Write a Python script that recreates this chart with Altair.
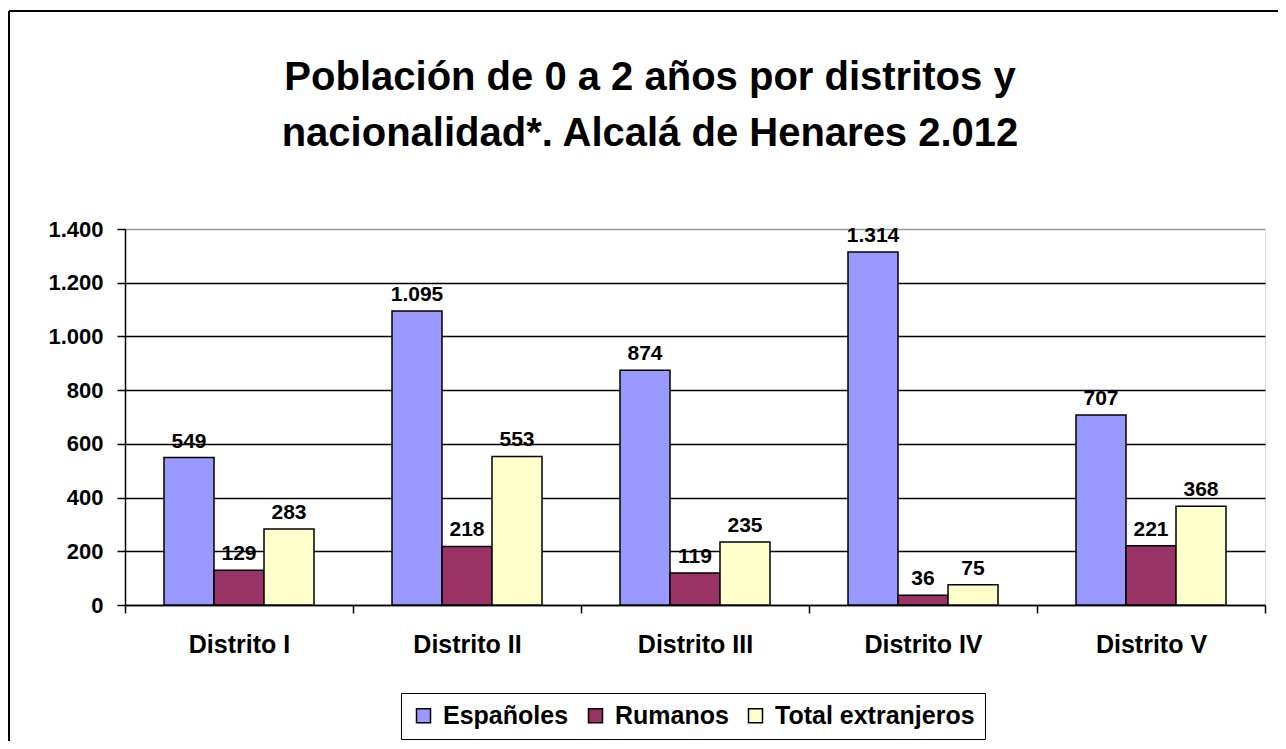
import altair as alt
import pandas as pd

# ---- data ----
distritos = ["Distrito I", "Distrito II", "Distrito III", "Distrito IV", "Distrito V"]
series = ["Españoles", "Rumanos", "Total extranjeros"]
espanoles = [549, 1095, 874, 1314, 707]
rumanos = [129, 218, 119, 36, 221]
total_extranjeros = [283, 553, 235, 75, 368]
colores = ["#9999FF", "#993366", "#FFFFCC"]
y_ticks = [0, 200, 400, 600, 800, 1000, 1200, 1400]
titulo = ["Población de 0 a 2 años por distritos y",
          "nacionalidad*. Alcalá de Henares 2.012"]

rows = []
for i, d in enumerate(distritos):
    for s, vals in zip(series, [espanoles, rumanos, total_extranjeros]):
        v = vals[i]
        rows.append({"distrito": d, "serie": s, "valor": v,
                     "etiqueta": f"{v:,}".replace(",", ".")})
df = pd.DataFrame(rows)

W, H = 1140, 376
SANS = "Liberation Sans, Arial, sans-serif"

base = alt.Chart(df).encode(
    x=alt.X("distrito:N", sort=distritos,
            scale=alt.Scale(paddingInner=0, paddingOuter=0),
            axis=alt.Axis(title=None, labelAngle=0, tickBand="extent",
                          labelFont=SANS, labelFontSize=25, labelFontWeight="bold",
                          labelColor="black", tickSize=8, tickColor="black",
                          tickWidth=1.5, domainColor="black", domainWidth=1.5,
                          labelPadding=19, grid=False)),
    xOffset=alt.XOffset("serie:N", sort=series,
                        scale=alt.Scale(paddingInner=0, paddingOuter=0.78)),
)

bars = base.mark_bar(stroke="black", strokeWidth=1.5).encode(
    y=alt.Y("valor:Q", scale=alt.Scale(domain=[0, 1400], nice=False),
            axis=alt.Axis(title=None, values=y_ticks,
                          labelExpr="replace(format(datum.value, ','), ',', '.')",
                          labelFont=SANS, labelFontSize=22, labelFontWeight="bold",
                          labelColor="black", tickSize=8, tickColor="black",
                          tickWidth=1.5, domainColor="black", domainWidth=1.5,
                          labelPadding=14, grid=True, gridWidth=1.5,
                          gridColor={"condition": {"test": "datum.value == 1400",
                                                   "value": "#999999"},
                                     "value": "black"})),
    color=alt.Color("serie:N", sort=series,
                    scale=alt.Scale(domain=series, range=colores),
                    legend=alt.Legend(title=None, orient="none", direction="horizontal",
                                      legendX=276, legendY=464,
                                      symbolType="square", symbolSize=196,
                                      symbolStrokeColor="black", symbolStrokeWidth=1.5,
                                      labelFont=SANS, labelFontSize=25,
                                      labelFontWeight="bold", labelColor="black",
                                      labelLimit=500,
                                      strokeColor="black", padding=10,
                                      columnPadding=14, labelOffset=7)),
)

labels = base.mark_text(baseline="alphabetic", dy=-10, font=SANS, fontSize=21,
                        fontWeight="bold", color="black").encode(
    y=alt.Y("valor:Q"),
    text=alt.Text("etiqueta:N"),
)

title_data = alt.Data(values=[{"linea": titulo[0], "n": 0},
                              {"linea": titulo[1], "n": 1}])
title_text = alt.Chart(title_data).mark_text(
    font=SANS, fontSize=40, fontWeight="bold", color="black",
    align="center", baseline="alphabetic").encode(
    text="linea:N",
    x=alt.value(525),
    y=alt.YValue(alt.ExprRef("datum.n == 0 ? -139 : -83")),
)

frame_data = alt.Data(values=[{"k": 1}])
frame_left = alt.Chart(frame_data).mark_rule(color="black", strokeWidth=2).encode(
    x=alt.value(-116), y=alt.value(-218), y2=alt.value(H + 140))
frame_top = alt.Chart(frame_data).mark_rule(color="black", strokeWidth=2).encode(
    x=alt.value(-116), x2=alt.value(W + 20), y=alt.value(-218))

chart = alt.layer(bars, labels, title_text, frame_left, frame_top).properties(
    width=W, height=H,
    autosize=alt.AutoSizeParams(type="none"),
    padding={"left": 117, "top": 221, "right": 13, "bottom": 136},
).configure_view(stroke="#999999", strokeWidth=1.5).configure(background="white")

chart.save("out.html", embed_options={"renderer": "svg", "actions": False})
